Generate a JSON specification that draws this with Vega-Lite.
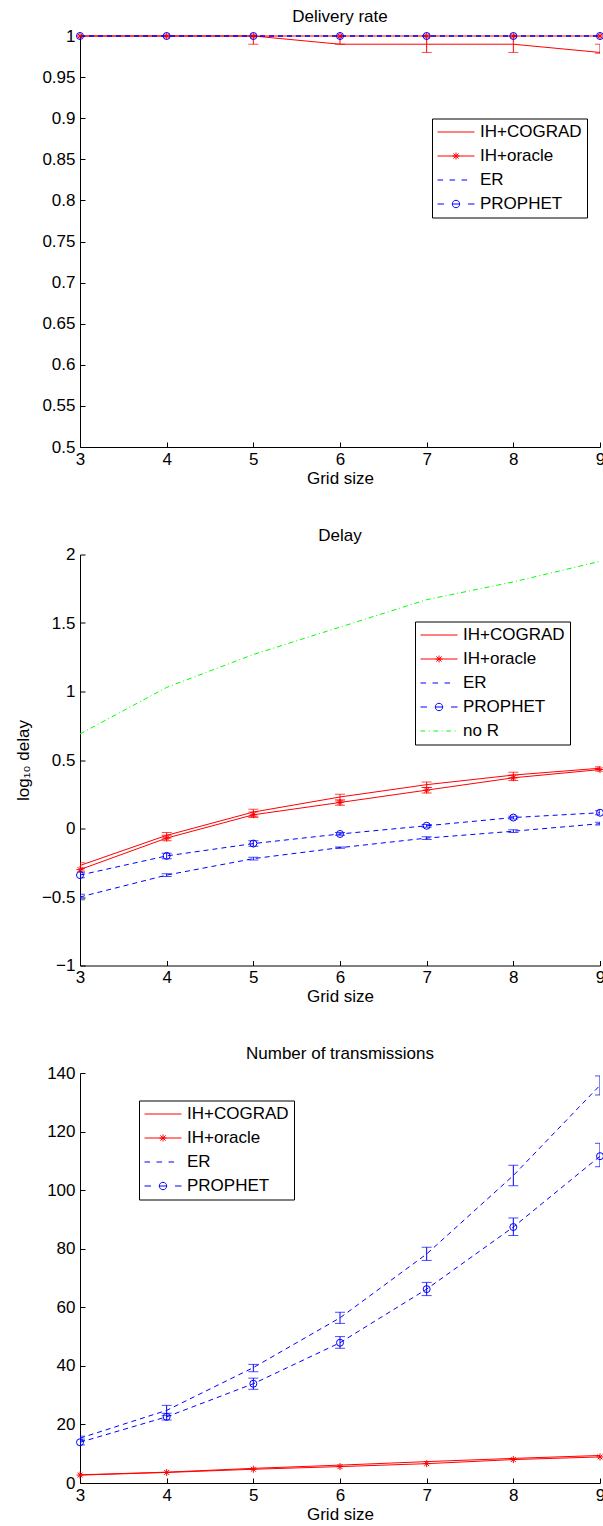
{
  "$schema": "https://vega.github.io/schema/vega-lite/v6.json",
  "padding": {"left": 14, "top": 8, "right": 0, "bottom": 0},
  "spacing": 40.5,
  "config": {
    "font": "Liberation Sans",
    "view": {"stroke": null},
    "axis": {"grid": false, "domainColor": "black", "domainWidth": 1, "tickColor": "black", "tickWidth": 1, "tickSize": -5, "labelColor": "black", "labelFont": "Liberation Sans", "labelFontSize": 17, "titleFont": "Liberation Sans", "titleFontSize": 17, "titleFontWeight": "normal", "titleColor": "black", "labelFlush": false, "labelOverlap": false},
    "axisX": {"labelPadding": 9, "titlePadding": 3},
    "axisY": {"labelPadding": 10, "titlePadding": 9},
    "title": {"font": "Liberation Sans", "fontSize": 17, "fontWeight": "normal", "color": "black", "frame": "group", "offset": 1},
    "legend": {"orient": "none", "title": null, "labelFont": "Liberation Sans", "labelFontSize": 17, "labelColor": "black", "labelLimit": 0, "strokeColor": "black", "fillColor": "white", "padding": 5, "rowPadding": 6, "symbolSize": 1369, "symbolStrokeWidth": 1, "clipHeight": 17, "symbolOpacity": 1, "labelOffset": 5}
  },
  "resolve": {"scale": {"shape": "independent"}},
  "vconcat": [
    {
      "width": 520, "height": 411,
      "title": {"text": "Delivery rate"},
      "data": {"values": [
        {"x": 3, "series": "IH+COGRAD", "y": 1},
        {"x": 4, "series": "IH+COGRAD", "y": 1},
        {"x": 5, "series": "IH+COGRAD", "y": 1, "lo": 0.99, "hi": 1},
        {"x": 6, "series": "IH+COGRAD", "y": 0.99, "lo": 0.99, "hi": 1},
        {"x": 7, "series": "IH+COGRAD", "y": 0.99, "lo": 0.98, "hi": 1},
        {"x": 8, "series": "IH+COGRAD", "y": 0.99, "lo": 0.98, "hi": 1},
        {"x": 9, "series": "IH+COGRAD", "y": 0.98, "lo": 0.979, "hi": 0.99},
        {"x": 3, "series": "IH+oracle", "y": 1},
        {"x": 4, "series": "IH+oracle", "y": 1},
        {"x": 5, "series": "IH+oracle", "y": 1},
        {"x": 6, "series": "IH+oracle", "y": 1},
        {"x": 7, "series": "IH+oracle", "y": 1},
        {"x": 8, "series": "IH+oracle", "y": 1},
        {"x": 9, "series": "IH+oracle", "y": 1},
        {"x": 3, "series": "ER", "y": 1},
        {"x": 4, "series": "ER", "y": 1},
        {"x": 5, "series": "ER", "y": 1},
        {"x": 6, "series": "ER", "y": 1},
        {"x": 7, "series": "ER", "y": 1},
        {"x": 8, "series": "ER", "y": 1},
        {"x": 9, "series": "ER", "y": 1},
        {"x": 3, "series": "PROPHET", "y": 1},
        {"x": 4, "series": "PROPHET", "y": 1},
        {"x": 5, "series": "PROPHET", "y": 1},
        {"x": 6, "series": "PROPHET", "y": 1},
        {"x": 7, "series": "PROPHET", "y": 1},
        {"x": 8, "series": "PROPHET", "y": 1},
        {"x": 9, "series": "PROPHET", "y": 1}
      ]},
      "layer": [
        {
          "mark": {"type": "point", "filled": false, "opacity": 0, "color": {"expr": "indexof(['ER', 'PROPHET'], datum.series || datum.value) >= 0 ? '#0000ff' : ((datum.series || datum.value) === 'no R' ? '#00ff00' : '#ff0000')"}},
          "encoding": {
            "x": {"field": "x", "type": "quantitative", "scale": {"domain": [3, 9], "nice": false, "zero": false}, "axis": {"values": [3, 4, 5, 6, 7, 8, 9], "format": "d", "title": "Grid size"}},
            "y": {"field": "y", "type": "quantitative", "scale": {"domain": [0.5, 1], "nice": false, "zero": false}, "axis": {"values": [0.5, 0.55, 0.6, 0.65, 0.7, 0.75, 0.8, 0.85, 0.9, 0.95, 1], "format": ".2~f", "title": null}},
            "shape": {"field": "series", "type": "nominal", "scale": {"domain": ["IH+COGRAD", "IH+oracle", "ER", "PROPHET"], "range": ["M-1,0H1", "M-1,0H1M0,-0.19V0.19M-0.19,0H0.19M-0.14,-0.14L0.14,0.14M-0.14,0.14L0.14,-0.14", "M-1,0H-0.7M-0.35,0H-0.05M0.3,0H0.6", "M-1,0H-0.65M-0.2,0H0.2M0.65,0H1M0.2,0A0.2,0.2 0 1 1 -0.2,0A0.2,0.2 0 1 1 0.2,0"]},
              "legend": {"legendX": 352, "legendY": 82.5, "encode": {"symbols": {"fill": {"value": "transparent"}}}}}
          }
        },
        {
          "transform": [{"filter": "datum.series === 'IH+COGRAD' || datum.series === 'IH+oracle'"}],
          "mark": {"type": "line", "strokeWidth": 1, "color": "#ff0000"},
          "encoding": {"x": {"field": "x", "type": "quantitative"}, "y": {"field": "y", "type": "quantitative", "title": null}, "detail": {"field": "series", "type": "nominal"}}
        },
        {
          "transform": [{"filter": "datum.series === 'ER' || datum.series === 'PROPHET'"}],
          "mark": {"type": "line", "strokeWidth": 1, "strokeDash": [5, 4], "color": "#0000ff"},
          "encoding": {"x": {"field": "x", "type": "quantitative"}, "y": {"field": "y", "type": "quantitative", "title": null}, "detail": {"field": "series", "type": "nominal"}}
        },
        {
          "transform": [{"filter": "isValid(datum.lo)"}],
          "mark": {"type": "errorbar", "ticks": {"size": 10, "color": "#ff0000"}, "rule": {"color": "#ff0000"}, "thickness": 1, "clip": true},
          "encoding": {
            "x": {"field": "x", "type": "quantitative"},
            "y": {"field": "lo", "type": "quantitative", "title": null},
            "y2": {"field": "hi"}
          }
        },
        {
          "transform": [{"filter": "datum.series === 'IH+oracle'"}],
          "mark": {"type": "point", "shape": "M0,-1V1M-1,0H1M-0.7,-0.7L0.7,0.7M-0.7,0.7L0.7,-0.7", "size": 49, "filled": false, "strokeWidth": 1, "color": "#ff0000", "opacity": 1},
          "encoding": {"x": {"field": "x", "type": "quantitative"}, "y": {"field": "y", "type": "quantitative", "title": null}}
        },
        {
          "transform": [{"filter": "datum.series === 'PROPHET'"}],
          "mark": {"type": "point", "shape": "circle", "size": 49, "filled": false, "strokeWidth": 1, "color": "#0000ff", "opacity": 1},
          "encoding": {"x": {"field": "x", "type": "quantitative"}, "y": {"field": "y", "type": "quantitative", "title": null}}
        }
      ]
    },
    {
      "width": 520, "height": 411,
      "title": {"text": "Delay"},
      "data": {"values": [
        {"x": 3, "series": "IH+COGRAD", "y": -0.27, "lo": -0.29, "hi": -0.25},
        {"x": 4, "series": "IH+COGRAD", "y": -0.05, "lo": -0.07, "hi": -0.03},
        {"x": 5, "series": "IH+COGRAD", "y": 0.12, "lo": 0.09, "hi": 0.14},
        {"x": 6, "series": "IH+COGRAD", "y": 0.23, "lo": 0.2, "hi": 0.25},
        {"x": 7, "series": "IH+COGRAD", "y": 0.32, "lo": 0.3, "hi": 0.34},
        {"x": 8, "series": "IH+COGRAD", "y": 0.39, "lo": 0.37, "hi": 0.41},
        {"x": 9, "series": "IH+COGRAD", "y": 0.44, "lo": 0.43, "hi": 0.45},
        {"x": 3, "series": "IH+oracle", "y": -0.3, "lo": -0.31, "hi": -0.29},
        {"x": 4, "series": "IH+oracle", "y": -0.07, "lo": -0.09, "hi": -0.05},
        {"x": 5, "series": "IH+oracle", "y": 0.1, "lo": 0.08, "hi": 0.12},
        {"x": 6, "series": "IH+oracle", "y": 0.19, "lo": 0.17, "hi": 0.21},
        {"x": 7, "series": "IH+oracle", "y": 0.28, "lo": 0.26, "hi": 0.3},
        {"x": 8, "series": "IH+oracle", "y": 0.37, "lo": 0.35, "hi": 0.39},
        {"x": 9, "series": "IH+oracle", "y": 0.43, "lo": 0.42, "hi": 0.44},
        {"x": 3, "series": "ER", "y": -0.5, "lo": -0.52, "hi": -0.48},
        {"x": 4, "series": "ER", "y": -0.34, "lo": -0.35, "hi": -0.33},
        {"x": 5, "series": "ER", "y": -0.22, "lo": -0.23, "hi": -0.21},
        {"x": 6, "series": "ER", "y": -0.14, "lo": -0.145, "hi": -0.135},
        {"x": 7, "series": "ER", "y": -0.07, "lo": -0.08, "hi": -0.06},
        {"x": 8, "series": "ER", "y": -0.02, "lo": -0.03, "hi": -0.01},
        {"x": 9, "series": "ER", "y": 0.035, "lo": 0.025, "hi": 0.045},
        {"x": 3, "series": "PROPHET", "y": -0.34, "lo": -0.36, "hi": -0.32},
        {"x": 4, "series": "PROPHET", "y": -0.2, "lo": -0.22, "hi": -0.18},
        {"x": 5, "series": "PROPHET", "y": -0.11, "lo": -0.13, "hi": -0.09},
        {"x": 6, "series": "PROPHET", "y": -0.04, "lo": -0.05, "hi": -0.03},
        {"x": 7, "series": "PROPHET", "y": 0.02, "lo": 0.01, "hi": 0.03},
        {"x": 8, "series": "PROPHET", "y": 0.08, "lo": 0.07, "hi": 0.09},
        {"x": 9, "series": "PROPHET", "y": 0.115, "lo": 0.1, "hi": 0.13},
        {"x": 3, "series": "no R", "y": 0.69},
        {"x": 4, "series": "no R", "y": 1.03},
        {"x": 5, "series": "no R", "y": 1.27},
        {"x": 6, "series": "no R", "y": 1.47},
        {"x": 7, "series": "no R", "y": 1.67},
        {"x": 8, "series": "no R", "y": 1.8},
        {"x": 9, "series": "no R", "y": 1.95}
      ]},
      "layer": [
        {
          "mark": {"type": "point", "filled": false, "opacity": 0, "color": {"expr": "indexof(['ER', 'PROPHET'], datum.series || datum.value) >= 0 ? '#0000ff' : ((datum.series || datum.value) === 'no R' ? '#00ff00' : '#ff0000')"}},
          "encoding": {
            "x": {"field": "x", "type": "quantitative", "scale": {"domain": [3, 9], "nice": false, "zero": false}, "axis": {"values": [3, 4, 5, 6, 7, 8, 9], "format": "d", "title": "Grid size"}},
            "y": {"field": "y", "type": "quantitative", "scale": {"domain": [-1, 2], "nice": false, "zero": false}, "axis": {"values": [-1, -0.5, 0, 0.5, 1, 1.5, 2], "format": ".1~f", "title": "log₁₀ delay"}},
            "shape": {"field": "series", "type": "nominal", "scale": {"domain": ["IH+COGRAD", "IH+oracle", "ER", "PROPHET", "no R"], "range": ["M-1,0H1", "M-1,0H1M0,-0.19V0.19M-0.19,0H0.19M-0.14,-0.14L0.14,0.14M-0.14,0.14L0.14,-0.14", "M-1,0H-0.7M-0.35,0H-0.05M0.3,0H0.6", "M-1,0H-0.65M-0.2,0H0.2M0.65,0H1M0.2,0A0.2,0.2 0 1 1 -0.2,0A0.2,0.2 0 1 1 0.2,0", "M-1,0H-0.75M-0.55,0H-0.5M-0.3,0H-0.05M0.15,0H0.2M0.4,0H0.65M0.85,0H0.9"]},
              "legend": {"legendX": 335, "legendY": 67, "encode": {"symbols": {"fill": {"value": "transparent"}}}}}
          }
        },
        {
          "transform": [{"filter": "datum.series === 'IH+COGRAD' || datum.series === 'IH+oracle'"}],
          "mark": {"type": "line", "strokeWidth": 1, "color": "#ff0000"},
          "encoding": {"x": {"field": "x", "type": "quantitative"}, "y": {"field": "y", "type": "quantitative", "title": "log₁₀ delay"}, "detail": {"field": "series", "type": "nominal"}}
        },
        {
          "transform": [{"filter": "datum.series === 'ER' || datum.series === 'PROPHET'"}],
          "mark": {"type": "line", "strokeWidth": 1, "strokeDash": [5, 4], "color": "#0000ff"},
          "encoding": {"x": {"field": "x", "type": "quantitative"}, "y": {"field": "y", "type": "quantitative", "title": "log₁₀ delay"}, "detail": {"field": "series", "type": "nominal"}}
        },
        {
          "transform": [{"filter": "datum.series === 'no R'"}],
          "mark": {"type": "line", "strokeWidth": 1, "strokeDash": [5, 3, 1, 3], "color": "#00ff00"},
          "encoding": {"x": {"field": "x", "type": "quantitative"}, "y": {"field": "y", "type": "quantitative", "title": "log₁₀ delay"}}
        },
        {
          "transform": [{"filter": "isValid(datum.lo) && (datum.series === 'IH+COGRAD' || datum.series === 'IH+oracle')"}],
          "mark": {"type": "errorbar", "ticks": {"size": 10, "color": "#ff0000"}, "rule": {"color": "#ff0000"}, "thickness": 1, "clip": true},
          "encoding": {
            "x": {"field": "x", "type": "quantitative"},
            "y": {"field": "lo", "type": "quantitative", "title": "log₁₀ delay"},
            "y2": {"field": "hi"}
          }
        },
        {
          "transform": [{"filter": "isValid(datum.lo) && (datum.series === 'ER' || datum.series === 'PROPHET')"}],
          "mark": {"type": "errorbar", "ticks": {"size": 10, "color": "#0000ff"}, "rule": {"color": "#0000ff"}, "thickness": 1, "clip": true},
          "encoding": {
            "x": {"field": "x", "type": "quantitative"},
            "y": {"field": "lo", "type": "quantitative", "title": "log₁₀ delay"},
            "y2": {"field": "hi"}
          }
        },
        {
          "transform": [{"filter": "datum.series === 'IH+oracle'"}],
          "mark": {"type": "point", "shape": "M0,-1V1M-1,0H1M-0.7,-0.7L0.7,0.7M-0.7,0.7L0.7,-0.7", "size": 49, "filled": false, "strokeWidth": 1, "color": "#ff0000", "opacity": 1},
          "encoding": {"x": {"field": "x", "type": "quantitative"}, "y": {"field": "y", "type": "quantitative", "title": "log₁₀ delay"}}
        },
        {
          "transform": [{"filter": "datum.series === 'PROPHET'"}],
          "mark": {"type": "point", "shape": "circle", "size": 49, "filled": false, "strokeWidth": 1, "color": "#0000ff", "opacity": 1},
          "encoding": {"x": {"field": "x", "type": "quantitative"}, "y": {"field": "y", "type": "quantitative", "title": "log₁₀ delay"}}
        }
      ]
    },
    {
      "width": 520, "height": 410,
      "title": {"text": "Number of transmissions"},
      "data": {"values": [
        {"x": 3, "series": "IH+COGRAD", "y": 2.8},
        {"x": 4, "series": "IH+COGRAD", "y": 3.7},
        {"x": 5, "series": "IH+COGRAD", "y": 5.0},
        {"x": 6, "series": "IH+COGRAD", "y": 6.1},
        {"x": 7, "series": "IH+COGRAD", "y": 7.3},
        {"x": 8, "series": "IH+COGRAD", "y": 8.4},
        {"x": 9, "series": "IH+COGRAD", "y": 9.4},
        {"x": 3, "series": "IH+oracle", "y": 2.7},
        {"x": 4, "series": "IH+oracle", "y": 3.6},
        {"x": 5, "series": "IH+oracle", "y": 4.7},
        {"x": 6, "series": "IH+oracle", "y": 5.6},
        {"x": 7, "series": "IH+oracle", "y": 6.6},
        {"x": 8, "series": "IH+oracle", "y": 8.0},
        {"x": 9, "series": "IH+oracle", "y": 8.9},
        {"x": 3, "series": "ER", "y": 15.3, "lo": 14.5, "hi": 16},
        {"x": 4, "series": "ER", "y": 24.8, "lo": 23, "hi": 26.5},
        {"x": 5, "series": "ER", "y": 39.4, "lo": 38, "hi": 40.5},
        {"x": 6, "series": "ER", "y": 56.4, "lo": 54.5, "hi": 58.3},
        {"x": 7, "series": "ER", "y": 78.2, "lo": 76, "hi": 80.5},
        {"x": 8, "series": "ER", "y": 105, "lo": 101.5, "hi": 108.5},
        {"x": 9, "series": "ER", "y": 135.8, "lo": 132.5, "hi": 139},
        {"x": 3, "series": "PROPHET", "y": 13.9, "lo": 13, "hi": 15},
        {"x": 4, "series": "PROPHET", "y": 22.6, "lo": 21.5, "hi": 23.8},
        {"x": 5, "series": "PROPHET", "y": 33.9, "lo": 32, "hi": 35.8},
        {"x": 6, "series": "PROPHET", "y": 47.9, "lo": 46, "hi": 50},
        {"x": 7, "series": "PROPHET", "y": 66.2, "lo": 64, "hi": 68.5},
        {"x": 8, "series": "PROPHET", "y": 87.4, "lo": 84.5, "hi": 90.5},
        {"x": 9, "series": "PROPHET", "y": 111.6, "lo": 108, "hi": 116}
      ]},
      "layer": [
        {
          "mark": {"type": "point", "filled": false, "opacity": 0, "color": {"expr": "indexof(['ER', 'PROPHET'], datum.series || datum.value) >= 0 ? '#0000ff' : ((datum.series || datum.value) === 'no R' ? '#00ff00' : '#ff0000')"}},
          "encoding": {
            "x": {"field": "x", "type": "quantitative", "scale": {"domain": [3, 9], "nice": false, "zero": false}, "axis": {"values": [3, 4, 5, 6, 7, 8, 9], "format": "d", "title": "Grid size"}},
            "y": {"field": "y", "type": "quantitative", "scale": {"domain": [0, 140], "nice": false, "zero": false}, "axis": {"values": [0, 20, 40, 60, 80, 100, 120, 140], "format": "d", "title": null}},
            "shape": {"field": "series", "type": "nominal", "scale": {"domain": ["IH+COGRAD", "IH+oracle", "ER", "PROPHET"], "range": ["M-1,0H1", "M-1,0H1M0,-0.19V0.19M-0.19,0H0.19M-0.14,-0.14L0.14,0.14M-0.14,0.14L0.14,-0.14", "M-1,0H-0.7M-0.35,0H-0.05M0.3,0H0.6", "M-1,0H-0.65M-0.2,0H0.2M0.65,0H1M0.2,0A0.2,0.2 0 1 1 -0.2,0A0.2,0.2 0 1 1 0.2,0"]},
              "legend": {"legendX": 59, "legendY": 27.5, "encode": {"symbols": {"fill": {"value": "transparent"}}}}}
          }
        },
        {
          "transform": [{"filter": "datum.series === 'IH+COGRAD' || datum.series === 'IH+oracle'"}],
          "mark": {"type": "line", "strokeWidth": 1, "color": "#ff0000"},
          "encoding": {"x": {"field": "x", "type": "quantitative"}, "y": {"field": "y", "type": "quantitative", "title": null}, "detail": {"field": "series", "type": "nominal"}}
        },
        {
          "transform": [{"filter": "datum.series === 'ER' || datum.series === 'PROPHET'"}],
          "mark": {"type": "line", "strokeWidth": 1, "strokeDash": [5, 4], "color": "#0000ff"},
          "encoding": {"x": {"field": "x", "type": "quantitative"}, "y": {"field": "y", "type": "quantitative", "title": null}, "detail": {"field": "series", "type": "nominal"}}
        },
        {
          "transform": [{"filter": "isValid(datum.lo)"}],
          "mark": {"type": "errorbar", "ticks": {"size": 10, "color": "#0000ff"}, "rule": {"color": "#0000ff"}, "thickness": 1, "clip": true},
          "encoding": {
            "x": {"field": "x", "type": "quantitative"},
            "y": {"field": "lo", "type": "quantitative", "title": null},
            "y2": {"field": "hi"}
          }
        },
        {
          "transform": [{"filter": "datum.series === 'IH+oracle'"}],
          "mark": {"type": "point", "shape": "M0,-1V1M-1,0H1M-0.7,-0.7L0.7,0.7M-0.7,0.7L0.7,-0.7", "size": 49, "filled": false, "strokeWidth": 1, "color": "#ff0000", "opacity": 1},
          "encoding": {"x": {"field": "x", "type": "quantitative"}, "y": {"field": "y", "type": "quantitative", "title": null}}
        },
        {
          "transform": [{"filter": "datum.series === 'PROPHET'"}],
          "mark": {"type": "point", "shape": "circle", "size": 49, "filled": false, "strokeWidth": 1, "color": "#0000ff", "opacity": 1},
          "encoding": {"x": {"field": "x", "type": "quantitative"}, "y": {"field": "y", "type": "quantitative", "title": null}}
        }
      ]
    }
  ]
}
